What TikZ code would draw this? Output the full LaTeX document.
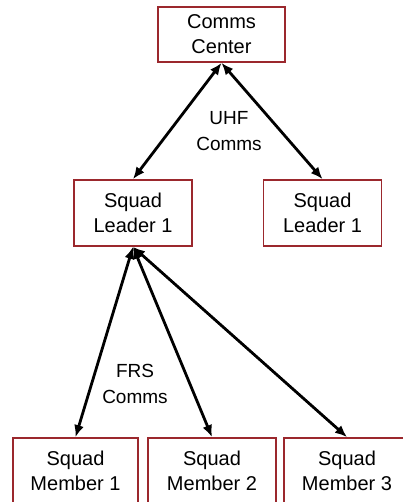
\documentclass[tikz,border=0pt]{standalone}
\usepackage{fontspec}
\setmainfont{Liberation Sans}
\usepackage{xcolor}
\definecolor{BoxRed}{RGB}{155,40,45}
\usetikzlibrary{arrows.meta}

\tikzset{
  unit/.style={draw=BoxRed, line width=1.8pt, fill=white, align=center,
    inner sep=0pt, font=\fontsize{20}{25}\selectfont},
  link/.style={{Latex[length=12pt,width=10pt]}-{Latex[length=12pt,width=10pt]}, line width=2.8pt, black},
  band/.style={align=center, font=\fontsize{19}{26}\selectfont}
}

\begin{document}
\begin{tikzpicture}[x=1pt, y=-1pt]
  \useasboundingbox (0,0) rectangle (403,502);
  \clip (0,0) rectangle (403,502);

  % command level
  \node[unit, minimum width=127pt, minimum height=55pt] (cc) at (221.5,34.5) {Comms\\Center};

  % squad leaders
  \node[unit, minimum width=118pt, minimum height=66pt] (sl1) at (133,213) {Squad\\Leader 1};
  \node[unit, minimum width=118pt, minimum height=66pt] (sl2) at (322.5,213) {Squad\\Leader 1};

  % squad members
  \node[unit, minimum width=125pt, minimum height=66pt] (sm1) at (75.5,471) {Squad\\Member 1};
  \node[unit, minimum width=128pt, minimum height=66pt] (sm2) at (212,471) {Squad\\Member 2};
  \node[unit, minimum width=126pt, minimum height=66pt] (sm3) at (347,471) {Squad\\Member 3};

  \draw[link] (cc.south) -- (sl1.north);
  \draw[link] (cc.south) -- (sl2.north);
  \draw[link] (sl1.south) -- (sm1.north);
  \draw[link] (sl1.south) -- (sm2.north);
  \draw[link] (sl1.south) -- (sm3.north);

  \node[band] (uhf) at (229,131) {UHF\\Comms};
  \node[band] (frs) at (135,384) {FRS\\Comms};
\end{tikzpicture}
\end{document}
